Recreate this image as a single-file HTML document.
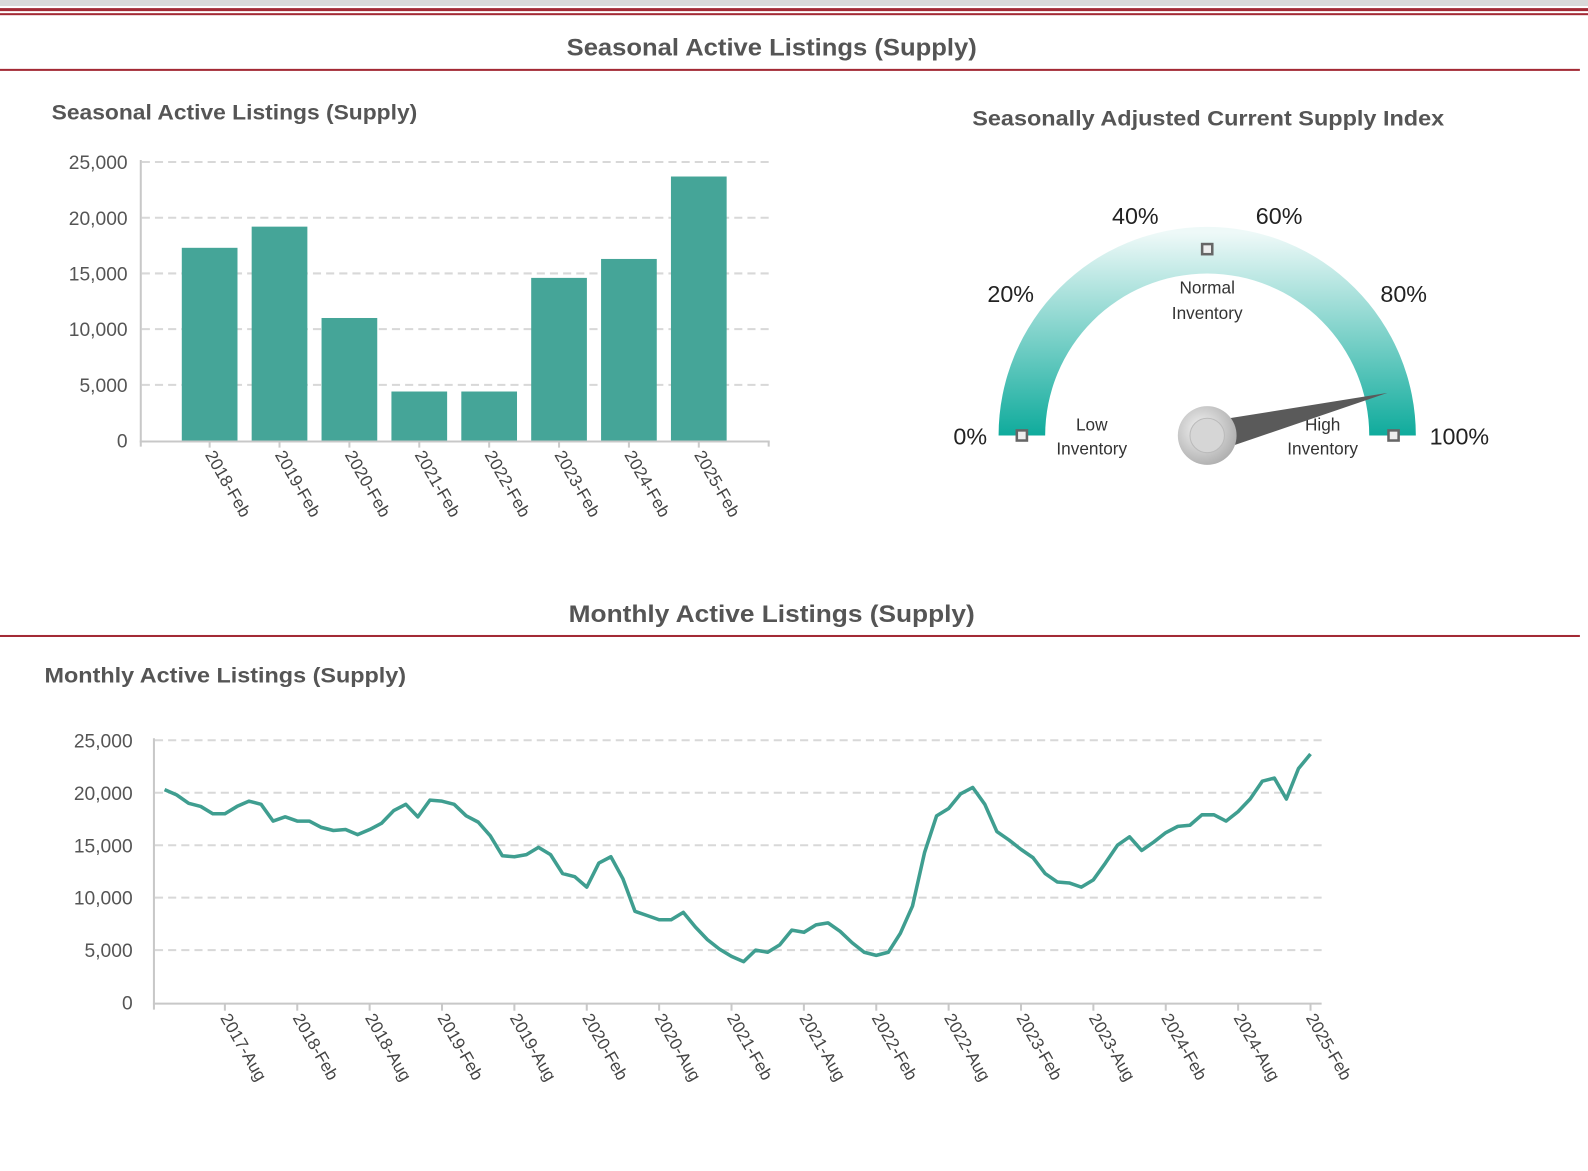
<!DOCTYPE html>
<html><head><meta charset="utf-8"><style>
html,body{margin:0;padding:0;background:#fff;}
body{width:1588px;height:1171px;overflow:hidden;position:relative;font-family:"Liberation Sans",sans-serif;}
svg{position:absolute;left:0;top:0;}
</style></head><body>
<svg id="s" width="1588" height="1171" viewBox="0 0 1568 1156.3" preserveAspectRatio="none" xmlns="http://www.w3.org/2000/svg">
<defs>
<linearGradient id="g" x1="0" y1="230" x2="0" y2="430" gradientUnits="userSpaceOnUse">
<stop offset="0" stop-color="#eef9f8"/><stop offset="1" stop-color="#0fab9c"/></linearGradient>
<radialGradient id="k" cx="0.4" cy="0.4" r="0.7"><stop offset="0" stop-color="#f4f4f4"/><stop offset="1" stop-color="#a8a8a8"/></radialGradient>
</defs>
<rect x="0" y="0" width="1568" height="6" fill="#d9d9d9"/>
<rect x="0" y="8" width="1568" height="3" fill="#a32a35"/>
<rect x="0" y="13" width="1568" height="2" fill="#a32a35"/>
<g font-weight="bold" fill="#555" font-family="Liberation Sans, sans-serif">
<text x="762" y="55" font-size="24" text-anchor="middle" textLength="405" lengthAdjust="spacingAndGlyphs">Seasonal Active Listings (Supply)</text>
<text x="51" y="118" font-size="21" textLength="361" lengthAdjust="spacingAndGlyphs">Seasonal Active Listings (Supply)</text>
<text x="1193" y="124" font-size="21" text-anchor="middle" textLength="466" lengthAdjust="spacingAndGlyphs">Seasonally Adjusted Current Supply Index</text>
<text x="762" y="614" font-size="24" text-anchor="middle" textLength="401" lengthAdjust="spacingAndGlyphs">Monthly Active Listings (Supply)</text>
<text x="44" y="674" font-size="21" textLength="357" lengthAdjust="spacingAndGlyphs">Monthly Active Listings (Supply)</text>
</g>
<rect x="0" y="68" width="1560" height="2" fill="#a32a35"/>
<rect x="0" y="627" width="1560" height="2" fill="#a32a35"/>
<g id="bar"></g>
<g id="line"></g>
<path d="M986 430 A206 206 0 0 1 1398 430 L1352 430 A160 160 0 0 0 1032 430 Z" fill="url(#g)"/>
<g fill="#eee" stroke="#666" stroke-width="2.5">
<rect x="1004" y="425" width="10" height="10"/><rect x="1187" y="241" width="10" height="10"/><rect x="1371" y="425" width="10" height="10"/></g>
<g font-size="23" fill="#222" font-family="Liberation Sans, sans-serif">
<text x="958" y="439" text-anchor="middle">0%</text><text x="998" y="298" text-anchor="middle">20%</text>
<text x="1121" y="221" text-anchor="middle">40%</text><text x="1263" y="221" text-anchor="middle">60%</text>
<text x="1386" y="298" text-anchor="middle">80%</text><text x="1441" y="439" text-anchor="middle">100%</text></g>
<g font-size="17" fill="#333" text-anchor="middle" font-family="Liberation Sans, sans-serif">
<text x="1192" y="290">Normal</text><text x="1192" y="315">Inventory</text>
<text x="1078" y="425">Low</text><text x="1078" y="449">Inventory</text>
<text x="1306" y="425">High</text><text x="1306" y="449">Inventory</text></g>
<polygon points="1195,416 1370,388 1200,446" fill="#5a5a5a"/>
<circle cx="1192" cy="430" r="29" fill="url(#k)"/>
<circle cx="1192" cy="430" r="17" fill="#d6d6d6" stroke="#bbb"/>
</svg>
<script>
var NS="http://www.w3.org/2000/svg";
function el(p,t,a,txt){var e=document.createElementNS(NS,t);for(var k in a)e.setAttribute(k,a[k]);if(txt!=null)e.textContent=txt;p.appendChild(e);return e;}
function fmt(v){return v==0?"0":(v/1000).toFixed(0)+",000";}
var b=document.getElementById("bar");
var y0=435,ppk=11;
for(var i=0;i<=5;i++){var y=y0-i*5*ppk;
 if(i>0)el(b,"line",{x1:140,x2:760,y1:y,y2:y,stroke:"#d8d8d8","stroke-width":2,"stroke-dasharray":"8,5"});
 el(b,"text",{x:126,y:y+7,"font-size":19,fill:"#555","text-anchor":"end","font-family":"Liberation Sans, sans-serif"},fmt(i*5000));}
var bv=[17.3,19.2,11.0,4.4,4.4,14.6,16.3,23.7],bl=["2018-Feb","2019-Feb","2020-Feb","2021-Feb","2022-Feb","2023-Feb","2024-Feb","2025-Feb"];
bv.forEach(function(v,i){var cx=207+i*69;el(b,"rect",{x:cx-27.5,y:y0-v*ppk,width:55,height:v*ppk,fill:"#45a598"});
 el(b,"line",{x1:cx,x2:cx,y1:y0,y2:y0+7,stroke:"#ccc","stroke-width":2});
 el(b,"text",{x:0,y:0,"font-size":17,fill:"#444",transform:"translate("+(cx-5)+","+(y0+14)+") rotate(60)","font-family":"Liberation Sans, sans-serif"},bl[i]);});
el(b,"line",{x1:139,x2:139,y1:158,y2:441,stroke:"#c8c8c8","stroke-width":2});
el(b,"line",{x1:138,x2:760,y1:436,y2:436,stroke:"#c8c8c8","stroke-width":2});
el(b,"line",{x1:759,x2:759,y1:436,y2:441,stroke:"#c8c8c8","stroke-width":2});
var L=document.getElementById("line");
var ly0=990,lp=10.36;
for(var i=0;i<=5;i++){var y=ly0-i*5*lp;
 if(i>0)el(L,"line",{x1:153,x2:1305,y1:y,y2:y,stroke:"#d8d8d8","stroke-width":2,"stroke-dasharray":"8,5"});
 el(L,"text",{x:131,y:y+7,"font-size":19,fill:"#555","text-anchor":"end","font-family":"Liberation Sans, sans-serif"},fmt(i*5000));}
el(L,"line",{x1:152,x2:152,y1:729,y2:997,stroke:"#c8c8c8","stroke-width":2});
el(L,"line",{x1:151,x2:1305,y1:991,y2:991,stroke:"#c8c8c8","stroke-width":2});
var lv=[20.3,19.8,19.0,18.7,18.0,18.0,18.7,19.2,18.9,17.3,
17.7,17.3,17.3,16.7,16.4,16.5,16.0,16.5,17.1,18.3,18.9,17.7,
19.3,19.2,18.9,17.8,17.2,15.9,14.0,13.9,14.1,14.8,14.1,12.3,
12.0,11.0,13.3,13.9,11.8,8.7,8.3,7.9,7.9,8.6,7.2,6.0,
5.1,4.4,3.9,5.0,4.8,5.5,6.9,6.7,7.4,7.6,6.8,5.7,
4.8,4.5,4.8,6.6,9.2,14.3,17.8,18.5,19.9,20.5,18.9,16.3,
15.5,14.6,13.8,12.3,11.5,11.4,11.0,11.7,13.3,15.0,15.8,14.5,
15.3,16.2,16.8,16.9,17.9,17.9,17.3,18.2,19.4,21.1,21.4,19.4,
22.3,23.7];
var dx=(1294-162.5)/95,pts=lv.map(function(v,i){return (162.5+i*dx).toFixed(1)+","+(ly0-v*lp).toFixed(1);}).join(" ");
var tl=["2017-Aug","2018-Feb","2018-Aug","2019-Feb","2019-Aug","2020-Feb","2020-Aug","2021-Feb","2021-Aug","2022-Feb","2022-Aug","2023-Feb","2023-Aug","2024-Feb","2024-Aug","2025-Feb"];
tl.forEach(function(t,i){var x=162.5+(5+6*i)*dx;el(L,"line",{x1:x,x2:x,y1:991,y2:998,stroke:"#c8c8c8","stroke-width":2});
 el(L,"text",{x:0,y:0,"font-size":17,fill:"#444",transform:"translate("+(x-5)+","+(1005)+") rotate(60)","font-family":"Liberation Sans, sans-serif"},t);});
el(L,"polyline",{points:pts,fill:"none",stroke:"#3f9e90","stroke-width":3.5,"stroke-linejoin":"round"});
</script>
</body></html>
